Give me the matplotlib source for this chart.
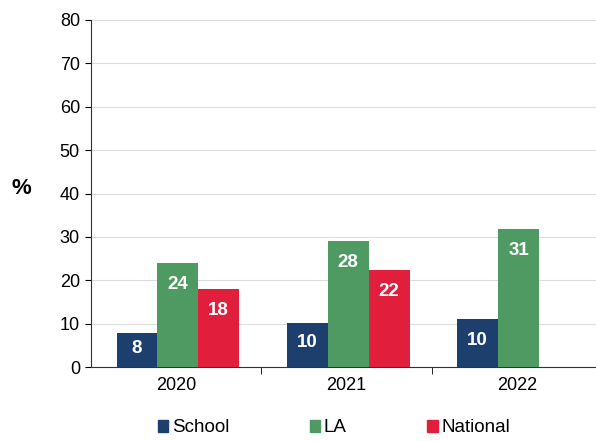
import numpy as np
import matplotlib.pyplot as plt
from matplotlib.patches import Patch

plt.rcParams['font.family'] = ['Liberation Sans', 'DejaVu Sans']

years = ['2020', '2021', '2022']
series = ['School', 'LA', 'National']
school = [7.8, 10.2, 11.0]
la = [24.0, 29.0, 31.8]
national = [18.0, 22.3, np.nan]
school_lbl = ['8', '10', '10']
la_lbl = ['24', '28', '31']
national_lbl = ['18', '22', '']
colors = ['#1d3f6e', '#4e9a62', '#e11f3c']

fig = plt.figure(figsize=(5.96, 4.41), dpi=100)
W, H = 596, 441
ax = fig.add_axes([91 / W, 1 - 367 / H, (602 - 91) / W, (367 - 20) / H])

x = np.arange(len(years))
bw = 0.24
for i, (vals, lbls) in enumerate(zip([school, la, national], [school_lbl, la_lbl, national_lbl])):
    pos = x + (i - 1) * bw + 0.01
    bars = ax.bar(pos, vals, bw, color=colors[i], zorder=3)
    for b, v, t in zip(bars, vals, lbls):
        if t:
            ax.text(b.get_x() + b.get_width() / 2, max(v - 5.0, v * 0.55), t,
                    ha='center', va='center', color='white', fontsize=13.5,
                    fontweight='bold', zorder=4)

ax.set_xlim(-0.5, 2.5)
ax.set_ylim(0, 80)
ax.set_yticks(range(0, 81, 10))
ax.yaxis.grid(True, color='#dcdcdc', linewidth=0.8, zorder=0)
ax.set_xticks(x)
ax.set_xticklabels(years)
ax.set_xticks([0.5, 1.5], minor=True)
ax.tick_params(axis='x', which='major', length=0, pad=7, labelsize=13)
ax.tick_params(axis='x', which='minor', length=5, direction='out')
ax.tick_params(axis='y', length=4, direction='out', labelsize=13, pad=4)
for s in ['top', 'right']:
    ax.spines[s].set_visible(False)
ax.spines['left'].set_color('#333333')
ax.spines['bottom'].set_color('#333333')

fig.text(21 / W, 1 - 188 / H, '%', fontsize=16, fontweight='bold', ha='center', va='center')

handles = [Patch(color=c) for c in colors]
fig.legend(handles, series, loc='center', bbox_to_anchor=(334 / W, 1 - 428 / H), ncol=3,
           frameon=False, fontsize=13.5, handlelength=0.55, handleheight=0.55,
           handletextpad=0.2, columnspacing=4.3)

fig.savefig('out.png', dpi=100)
